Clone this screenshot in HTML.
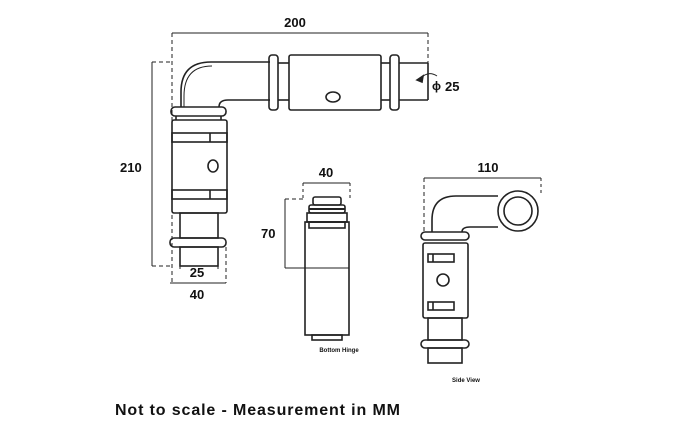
<!DOCTYPE html>
<html><head><style>body{margin:0;background:#fff}svg{display:block}</style></head><body>
<svg width="700" height="426" viewBox="0 0 700 426" xmlns="http://www.w3.org/2000/svg" font-family="Liberation Sans, sans-serif">
<g fill="none" stroke="#222" stroke-width="1.6">
<line x1="172" y1="33" x2="428" y2="33" stroke-width="1"/>
<line x1="172" y1="33" x2="172" y2="283" stroke-dasharray="4,3" stroke-width="1"/>
<line x1="428" y1="33" x2="428" y2="63" stroke-dasharray="4,3" stroke-width="1"/>
<line x1="152" y1="62" x2="152" y2="266" stroke-width="1"/>
<line x1="152" y1="62" x2="172" y2="62" stroke-dasharray="4,3" stroke-width="1"/>
<line x1="152" y1="266" x2="172" y2="266" stroke-dasharray="4,3" stroke-width="1"/>
<line x1="226" y1="247" x2="226" y2="283" stroke-dasharray="4,3" stroke-width="1"/>
<line x1="180" y1="266" x2="180" y2="272" stroke-dasharray="3,3" stroke-width="1"/>
<line x1="218" y1="266" x2="218" y2="272" stroke-dasharray="3,3" stroke-width="1"/>
<line x1="170" y1="283" x2="226" y2="283" stroke-width="1"/>
<path d="M181 107 L181 92 Q181 62 211 62 L270 62"/>
<path d="M184 107 L184 96 Q184 66 212 66" stroke-width="1"/>
<path d="M219 107 Q219 100 228 100 L270 100"/>
<rect x="269" y="55" width="9" height="55" rx="3"/>
<line x1="278" y1="63" x2="289" y2="63"/><line x1="278" y1="100" x2="289" y2="100"/>
<rect x="289" y="55" width="92" height="55" rx="2"/>
<line x1="381" y1="63" x2="390" y2="63"/><line x1="381" y1="100" x2="390" y2="100"/>
<rect x="390" y="55" width="9" height="55" rx="3"/>
<path d="M399 63 L428 63 M399 100 L428 100 M428 63 L428 100"/>
<ellipse cx="333" cy="97" rx="7" ry="5"/>
<path d="M420 79 Q428 70 437 76" stroke-width="1"/>
<path d="M417 80 l6 -4 l-1 6 z" fill="#222"/>
<rect x="171" y="107" width="55" height="9" rx="4"/>
<line x1="176" y1="116" x2="176" y2="120"/><line x1="221" y1="116" x2="221" y2="120"/>
<rect x="172" y="120" width="55" height="93" rx="2"/>
<rect x="172" y="133" width="55" height="9"/><rect x="172" y="190" width="55" height="9"/>
<line x1="210" y1="133" x2="210" y2="142"/><line x1="210" y1="190" x2="210" y2="199"/>
<ellipse cx="213" cy="166" rx="5" ry="6"/>
<rect x="180" y="213" width="38" height="25"/>
<rect x="170" y="238" width="56" height="9" rx="4"/>
<rect x="180" y="247" width="38" height="19"/>
<line x1="303" y1="183" x2="350" y2="183" stroke-width="1"/>
<line x1="303" y1="183" x2="303" y2="199" stroke-dasharray="3,3" stroke-width="1"/>
<line x1="350" y1="183" x2="350" y2="199" stroke-dasharray="3,3" stroke-width="1"/>
<line x1="285" y1="199" x2="285" y2="268" stroke-width="1"/>
<line x1="285" y1="199" x2="303" y2="199" stroke-dasharray="4,3" stroke-width="1"/>
<line x1="285" y1="268" x2="349" y2="268" stroke-width="1"/>
<rect x="313" y="197" width="28" height="8" rx="2"/>
<rect x="309" y="205" width="36" height="8" rx="2"/>
<line x1="309" y1="209" x2="345" y2="209" stroke-width="2"/>
<rect x="307" y="213" width="40" height="9"/>
<rect x="305" y="222" width="44" height="113"/>
<rect x="309" y="222" width="36" height="6"/>
<rect x="312" y="335" width="30" height="5"/>
<line x1="424" y1="178" x2="541" y2="178" stroke-width="1"/>
<line x1="424" y1="178" x2="424" y2="232" stroke-dasharray="4,3" stroke-width="1"/>
<line x1="541" y1="178" x2="541" y2="195" stroke-dasharray="3,3" stroke-width="1"/>
<path d="M432 232 L432 220 Q432 196 456 196 L498 196"/>
<path d="M462 232 Q462 227 470 227 L498 227"/>
<circle cx="518" cy="211" r="20"/>
<circle cx="518" cy="211" r="14"/>
<rect x="421" y="232" width="48" height="8" rx="4"/>
<rect x="423" y="243" width="45" height="75" rx="2"/>
<rect x="428" y="254" width="26" height="8"/><rect x="428" y="302" width="26" height="8"/>
<line x1="433" y1="254" x2="433" y2="262"/><line x1="433" y1="302" x2="433" y2="310"/>
<circle cx="443" cy="280" r="6"/>
<rect x="428" y="318" width="34" height="22"/>
<rect x="421" y="340" width="48" height="8" rx="4"/>
<rect x="428" y="348" width="34" height="15"/>
</g>
<g fill="#111" font-weight="bold">
<text x="295" y="27" font-size="13" text-anchor="middle">200</text>
<text x="432" y="90" font-size="12">ϕ</text>
<text x="445" y="91" font-size="13">25</text>
<text x="120" y="172" font-size="13">210</text>
<text x="197" y="277" font-size="13" text-anchor="middle">25</text>
<text x="197" y="299" font-size="13" text-anchor="middle">40</text>
<text x="326" y="177" font-size="13" text-anchor="middle">40</text>
<text x="261" y="238" font-size="13">70</text>
<text x="488" y="172" font-size="13" text-anchor="middle">110</text>
<text x="339" y="352" font-size="6" text-anchor="middle">Bottom Hinge</text>
<text x="466" y="382" font-size="6" text-anchor="middle">Side View</text>
<text x="115" y="415" font-size="16" textLength="285" lengthAdjust="spacing">Not to scale - Measurement in MM</text>
</g>
</svg>
</body></html>
